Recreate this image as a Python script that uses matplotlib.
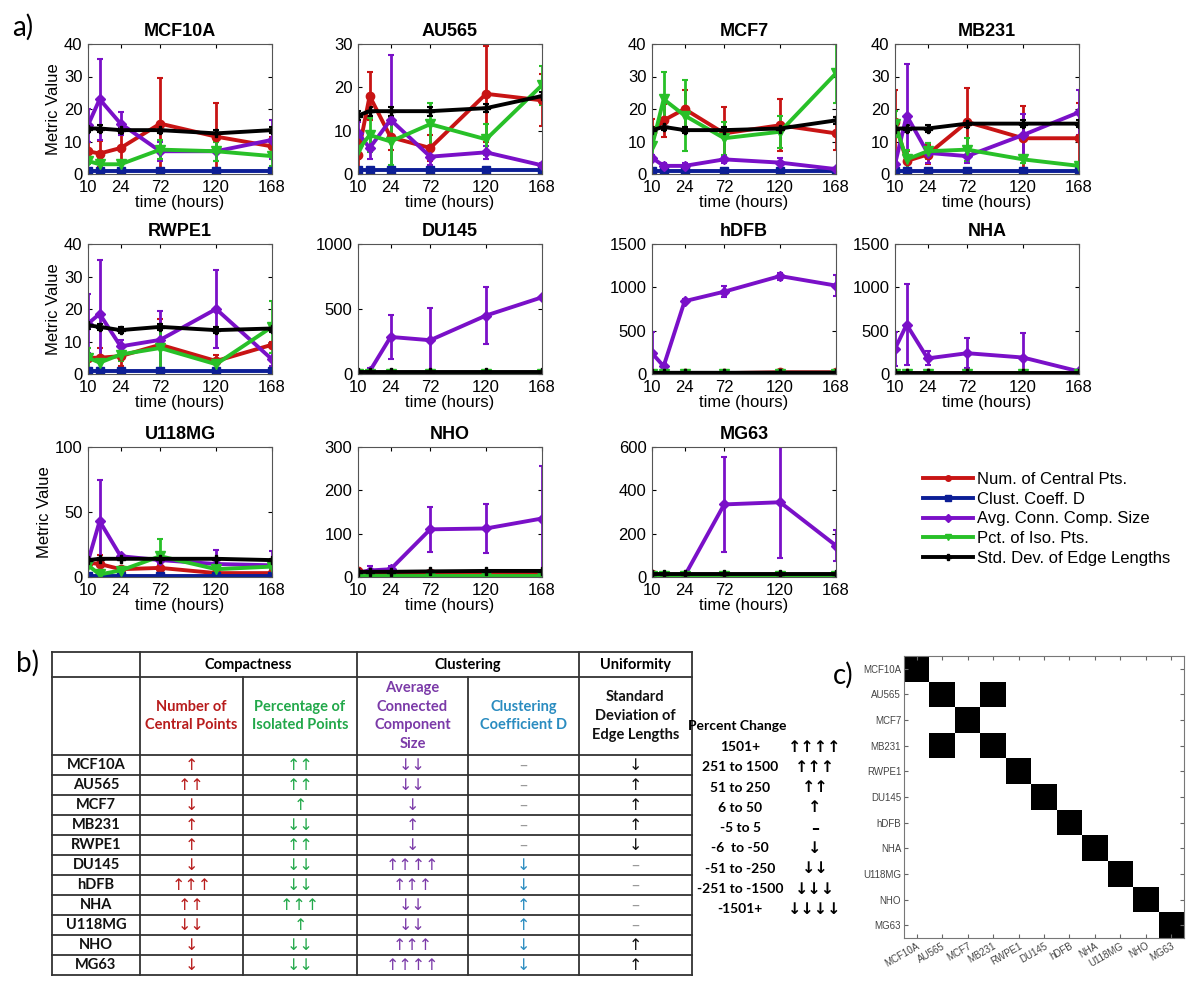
import numpy as np
import matplotlib
matplotlib.use("Agg")
import matplotlib.pyplot as plt
from matplotlib.lines import Line2D

# --- DADOS ---
cell_lines = ["MCF10A", "AU565", "MCF7", "MB231", "RWPE1", "DU145",
              "hDFB", "NHA", "U118MG", "NHO", "MG63"]
time_pos = [10, 20, 38, 72, 120, 168]          # posicao dos pontos no eixo x
tick_pos = [10, 38, 72, 120, 168]
tick_labels = ["10", "24", "72", "120", "168"]
y_max = [40, 30, 40, 40, 40, 1000, 1500, 1500, 100, 300, 600]
y_step = [10, 10, 10, 10, 10, 500, 500, 500, 50, 100, 200]

central_mean = [[7, 6.3, 8, 15.5, 11.5, 8.5],
                [4.5, 18, 8.5, 6, 18.5, 17],
                [13, 16.5, 20, 12.5, 15, 12.5],
                [16, 4, 6, 16, 11, 11],
                [5, 5, 5.5, 9, 4, 9],
                [6, 5, 6, 6, 7, 7],
                [6, 5, 8, 10, 20, 20],
                [8, 6, 7, 8, 9, 8],
                [11, 10, 6, 7, 3, 3],
                [15, 8, 8, 10, 10, 8],
                [12, 8, 8, 10, 10, 10]]
central_err = [[3, 4, 4, 14, 10.5, 3],
               [3, 5.5, 3, 3, 11, 6],
               [4, 5, 6, 8, 8, 5],
               [10, 3, 3, 10.5, 10, 11],
               [3, 3, 3, 8, 2, 1],
               [3, 3, 3, 3, 3, 3],
               [3, 3, 3, 5, 10, 10],
               [3, 3, 3, 3, 3, 3],
               [2, 7, 2, 3, 1, 1],
               [5, 3, 3, 4, 4, 3],
               [5, 3, 3, 4, 4, 4]]

clust_mean = [[1, 1, 1, 1, 1, 1]] * 11
clust_err = [[0.3, 0.3, 0.3, 0.3, 0.3, 0.3]] * 11

avg_mean = [[15, 23, 15.5, 7, 7, 10.5],
            [9.5, 6, 12.5, 4, 5, 2],
            [5, 2.5, 2.5, 4.5, 3.5, 1.5],
            [3, 18, 6.5, 5.5, 12, 19],
            [15.5, 18.5, 8.5, 10.5, 20, 4.5],
            [5, 20, 285, 260, 450, 590],
            [240, 90, 840, 950, 1130, 1020],
            [290, 570, 180, 240, 190, 30],
            [12, 43, 16, 13, 10, 9],
            [10, 15, 18, 110, 112, 135],
            [10, 5, 5, 335, 345, 145]]
avg_err = [[5, 12.5, 3.5, 3, 3, 6],
           [2.5, 2.5, 15, 2, 1.5, 0.5],
           [1, 1, 1, 1, 1.5, 0.5],
           [1, 16, 3, 2, 6.5, 7],
           [9, 16.5, 2, 9, 12, 2],
           [5, 30, 170, 250, 220, 10],
           [250, 40, 30, 60, 40, 120],
           [200, 470, 80, 170, 280, 20],
           [2, 32, 2, 3, 11, 11],
           [8, 10, 8, 52, 57, 122],
           [10, 5, 5, 220, 255, 70]]

iso_mean = [[4, 3, 3, 7.5, 7, 5.5],
            [5.5, 9, 7.5, 11.5, 8, 20.5],
            [8.5, 23, 18, 11, 13, 31],
            [15.5, 4.5, 7, 7.5, 4.5, 2.5],
            [5, 3.5, 6, 8, 3, 14.5],
            [3, 3, 3, 3, 3, 3],
            [3, 3, 3, 3, 3, 3],
            [3, 3, 3, 3, 3, 3],
            [9, 2, 5, 16, 6, 8],
            [3, 3, 3, 3, 3, 3],
            [3, 3, 3, 3, 3, 3]]
iso_err = [[1, 1.5, 1, 3, 3, 3],
           [2, 4, 5.5, 5, 3.5, 4.5],
           [3, 8.5, 11, 5, 5, 9],
           [4, 3, 2.5, 3.5, 1, 1],
           [3, 2, 2, 7, 1.5, 8],
           [2, 2, 2, 2, 2, 2],
           [2, 2, 2, 2, 2, 2],
           [2, 2, 2, 2, 2, 2],
           [2, 1, 2, 13, 3, 2],
           [2, 2, 2, 2, 2, 2],
           [2, 2, 2, 2, 2, 2]]

std_mean = [[14, 14, 13.5, 13.5, 12.5, 13.5],
            [13.5, 14.5, 14.5, 14.5, 15.2, 18],
            [13.5, 14.5, 13.5, 13.5, 14, 16.5],
            [14, 14, 14, 15.5, 15.5, 15.5],
            [15, 14.5, 13.5, 14.5, 13.5, 14],
            [14, 14, 14, 14, 14, 14],
            [14, 14, 14, 14, 15, 15],
            [14, 14, 14, 14, 14, 14],
            [13, 14, 14, 14, 14, 13],
            [12, 12, 12, 13, 14, 14],
            [13, 13, 13, 13, 13, 13]]
std_err = [[1, 1, 1, 1, 1, 1]] * 11

series_names = ["Num. of Central Pts.", "Clust. Coeff. D", "Avg. Conn. Comp. Size",
                "Pct. of Iso. Pts.", "Std. Dev. of Edge Lengths"]

# tabela b)
central_arrows = ["↑", "↑↑", "↓", "↑", "↑", "↓", "↑↑↑", "↑↑", "↓↓", "↓", "↓"]
iso_arrows = ["↑↑", "↑↑", "↑", "↓↓", "↑↑", "↓↓", "↓↓", "↑↑↑", "↑", "↓↓", "↓↓"]
avg_arrows = ["↓↓", "↓↓", "↓", "↑", "↓", "↑↑↑↑", "↑↑↑", "↓↓", "↓↓", "↑↑↑", "↑↑↑↑"]
clust_arrows = ["–", "–", "–", "–", "–", "↓", "↓", "↑", "↑", "↓", "↓"]
std_arrows = ["↓", "↑", "↑", "↑", "↓", "–", "–", "–", "–", "↑", "↑"]
pct_ranges = ["1501+", "251 to 1500", "51 to 250", "6 to 50", "-5 to 5",
              "-6  to -50", "-51 to -250", "-251 to -1500", "-1501+"]
pct_arrows = ["↑↑↑↑", "↑↑↑", "↑↑", "↑", "–", "↓", "↓↓", "↓↓↓", "↓↓↓↓"]

# matriz c)
similar_pairs = [("AU565", "MB231")]

# --- ESTILO ---
W, H = 1200, 985
RED, NAVY, PURPLE, GREEN, BLACK = "#c81414", "#0c1e96", "#7a10c8", "#28c028", "#000000"
series_style = [(RED, "o", 6), (NAVY, "s", 6), (PURPLE, "D", 5), (GREEN, "v", 7), (BLACK, "P", 6)]
arial = ["Liberation Sans", "DejaVu Sans"]
calibri = ["Lato", "DejaVu Sans"]

fig = plt.figure(figsize=(W / 100, H / 100), dpi=100)


def px_axes(left, top, width, height):
    return fig.add_axes([left / W, 1 - (top + height) / H, width / W, height / H])


col_left = [88, 358, 652, 895]
row_top = [44, 244, 447]
ax_w, ax_h = 184, 130

all_means = [central_mean, clust_mean, avg_mean, iso_mean, std_mean]
all_errs = [central_err, clust_err, avg_err, iso_err, std_err]

for k, name in enumerate(cell_lines):
    r, c = divmod(k, 4)
    ax = px_axes(col_left[c], row_top[r], ax_w, ax_h)
    for s in range(5):
        color, mk, ms = series_style[s]
        ax.errorbar(time_pos, all_means[s][k], yerr=all_errs[s][k], color=color,
                    marker=mk, ms=ms, lw=2.8, elinewidth=2, capsize=2, capthick=1.5)
    ax.set_xlim(10, 168)
    ax.set_ylim(0, y_max[k])
    ax.set_yticks(np.arange(0, y_max[k] + 1, y_step[k]))
    ax.set_xticks(tick_pos)
    ax.set_xticklabels(tick_labels)
    ax.tick_params(direction="in", top=True, right=True, length=3, labelsize=12)
    ax.tick_params(axis="x", pad=4)
    ax.tick_params(axis="y", pad=4)
    for lab in ax.get_xticklabels() + ax.get_yticklabels():
        lab.set_family(arial)
    for sp in ax.spines.values():
        sp.set_color("#555555")
        sp.set_linewidth(0.8)
    ax.set_title(name, fontsize=13, fontweight="bold", family=arial, pad=6)
    ax.set_xlabel("time (hours)", fontsize=12, family=arial, labelpad=0)
    if c == 0:
        ax.set_ylabel("Metric Value", fontsize=12, family=arial, labelpad=2)

# legenda
handles = [Line2D([], [], color=series_style[s][0], marker=series_style[s][1],
                  ms=4, lw=2.8) for s in range(5)]
fig.legend(handles, series_names, loc="upper left", bbox_to_anchor=(908 / W, 1 - 457 / H),
           frameon=False, prop={"family": arial, "size": 12}, handlelength=3.0,
           handletextpad=0.25, labelspacing=0.28)

# --- camada para textos e tabela ---
ov = fig.add_axes([0, 0, 1, 1], zorder=-1)
ov.set_xlim(0, W)
ov.set_ylim(H, 0)
ov.axis("off")

ov.text(23, 27, "a)", fontsize=20, family=calibri, va="center", ha="center")
ov.text(28, 663, "b)", fontsize=20, family=calibri, va="center", ha="center")
ov.text(843, 675, "c)", fontsize=20, family=calibri, va="center", ha="center")

xs = [52, 140, 243, 357, 468, 579, 692]
y_top, y_head, y_sub = 652, 677, 755
row_h = 20
y_bot = y_sub + row_h * len(cell_lines)
lw_t = 1.3
ov.plot([xs[0], xs[-1]], [y_top, y_top], color="#333333", lw=lw_t)
ov.plot([xs[0], xs[-1]], [y_head, y_head], color="#333333", lw=lw_t)
for i in range(len(cell_lines) + 1):
    y = y_sub + i * row_h
    ov.plot([xs[0], xs[-1]], [y, y], color="#333333", lw=lw_t)
for x in [xs[0], xs[1], xs[3], xs[5], xs[6]]:
    ov.plot([x, x], [y_top, y_bot], color="#333333", lw=lw_t)
for x in [xs[2], xs[4]]:
    ov.plot([x, x], [y_head, y_bot], color="#333333", lw=lw_t)

fs = 10.5
head_y = (y_top + y_head) / 2
ov.text((xs[1] + xs[3]) / 2, head_y, "Compactness", fontsize=fs, fontweight="bold",
        family=calibri, ha="center", va="center")
ov.text((xs[3] + xs[5]) / 2, head_y, "Clustering", fontsize=fs, fontweight="bold",
        family=calibri, ha="center", va="center")
ov.text((xs[5] + xs[6]) / 2, head_y, "Uniformity", fontsize=fs, fontweight="bold",
        family=calibri, ha="center", va="center")

TRED, TGREEN, TPURPLE, TBLUE = "#b81c1c", "#22a84a", "#7b3aa8", "#2a8cc0"
sub_heads = ["Number of\nCentral Points", "Percentage of\nIsolated Points",
             "Average\nConnected\nComponent\nSize", "Clustering\nCoefficient D",
             "Standard\nDeviation of\nEdge Lengths"]
sub_colors = [TRED, TGREEN, TPURPLE, TBLUE, "#111111"]
sub_y = (y_head + y_sub) / 2
for j in range(5):
    ov.text((xs[j + 1] + xs[j + 2]) / 2, sub_y, sub_heads[j], fontsize=fs, fontweight="bold",
            family=calibri, ha="center", va="center", color=sub_colors[j], linespacing=1.45)

cols = [central_arrows, iso_arrows, avg_arrows, clust_arrows, std_arrows]
for i, name in enumerate(cell_lines):
    yc = y_sub + (i + 0.5) * row_h
    ov.text((xs[0] + xs[1]) / 2, yc, name, fontsize=fs, fontweight="bold",
            family=calibri, ha="center", va="center", color="#111111")
    for j in range(5):
        s = cols[j][i]
        color = "#9a9a9a" if s == "–" else sub_colors[j]
        ov.text((xs[j + 1] + xs[j + 2]) / 2, yc, s, fontsize=fs + 1,
                family=["DejaVu Sans"], ha="center", va="center", color=color)

ov.text(737, 726, "Percent Change", fontsize=10, fontweight="bold", family=calibri,
        ha="center", va="center")
for i, (rng, arr) in enumerate(zip(pct_ranges, pct_arrows)):
    yc = 747 + i * 20.3
    ov.text(740, yc, rng, fontsize=10, fontweight="bold", family=calibri,
            ha="center", va="center")
    ov.text(815, yc, arr, fontsize=fs + 1, fontweight="bold", family=["DejaVu Sans"],
            ha="center", va="center")

# --- matriz c) ---
n = len(cell_lines)
sim = np.eye(n)
for a, b in similar_pairs:
    ia, ib = cell_lines.index(a), cell_lines.index(b)
    sim[ia, ib] = sim[ib, ia] = 1
    sim[ia, ia] = sim[ib, ib] = 1

axm = px_axes(904, 656, 280, 282)
axm.imshow(sim, cmap="gray_r", vmin=0, vmax=1, aspect="auto", interpolation="nearest",
           extent=(0.5, n + 0.5, n + 0.5, 0.5))
axm.set_xticks(np.arange(1, n + 1))
axm.set_yticks(np.arange(1, n + 1))
axm.set_xticklabels(cell_lines, rotation=30, ha="right", rotation_mode="anchor")
axm.set_yticklabels(cell_lines)
axm.tick_params(direction="in", top=True, right=True, length=3, labelsize=7,
                labelcolor="#444444", color="#666666", pad=2)
for lab in axm.get_xticklabels() + axm.get_yticklabels():
    lab.set_family(arial)
for sp in axm.spines.values():
    sp.set_color("#777777")
    sp.set_linewidth(0.8)

fig.savefig("out.png", dpi=100, facecolor="white")
